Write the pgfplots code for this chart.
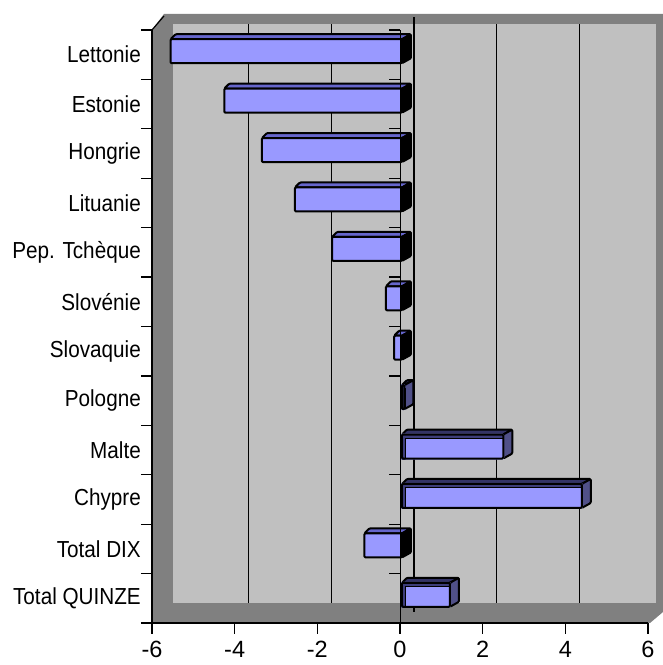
\documentclass[border=0pt]{standalone}
\usepackage{fontspec}
\setmainfont{Liberation Sans}
\usepackage{graphicx}
\usepackage{pgfplots}
\pgfplotsset{compat=1.18}
\usepackage{pgfplotstable}
\definecolor{face}{HTML}{9999FF}
\definecolor{negtop}{HTML}{6666CC}
\definecolor{postop}{HTML}{333366}
\definecolor{posside}{HTML}{505088}
\definecolor{navy}{HTML}{3D3D7A}
\definecolor{wallD}{HTML}{808080}
\definecolor{wallL}{HTML}{C0C0C0}

\pgfplotstableread{
pos v
11 -5.60
10 -4.30
9 -3.39
8 -2.59
7 -1.69
6 -0.39
5 -0.19
4 0.06
3 2.45
2 4.35
1 -0.91
0 1.16
}\bars

\newcommand\lbl[1]{\scalebox{1}[1.12]{#1}}

\begin{document}
\begin{tikzpicture}
\useasboundingbox (-152pt,-42pt) rectangle (511pt,623pt);
% walls
\fill[wallD] (0pt,0pt) -- (0pt,593pt) -- (12pt,609pt) -- (511pt,609pt) -- (511pt,11pt) -- (498pt,0pt) -- cycle;
\fill[wallL] (21pt,20pt) rectangle (504pt,599pt);
\draw[line width=1.2pt] (0pt,593pt) -- (12pt,607pt);
% back gridlines
\foreach \gx in {96.67,179.33,344.67,427.33}
  \draw[line width=1pt] (\gx pt,20pt) -- (\gx pt,599pt);
\draw[line width=1.8pt] (262pt,11pt) -- (262pt,606pt);
\begin{axis}[
  at={(0pt,0pt)}, anchor=south west,
  scale only axis, width=496pt, height=593pt,
  xmin=-6, xmax=6, ymin=-0.5, ymax=11.5,
  enlargelimits=false, clip=false, axis on top,
  axis x line*=bottom, axis y line*=left,
  axis line style={line width=1.8pt, black},
  tick align=outside, major tick length=11pt,
  tick style={line width=1.3pt, black},
  xtick={-6,-4,-2,0,2,4,6},
  xticklabels={-6,-4,-2,0,2,4,6},
  xticklabel style={font=\fontsize{23.5}{23.5}\selectfont, inner sep=0pt, yshift=-7pt},
  ytick={-0.5,0.5,...,11.5},
  y tick label as interval,
  yticklabels={\lbl{Total QUINZE},\lbl{Total DIX},\lbl{Chypre},\lbl{Malte},\lbl{Pologne},\lbl{Slovaquie},\lbl{Slovénie},\lbl{Pep. Tchèque},\lbl{Lituanie},\lbl{Hongrie},\lbl{Estonie},\lbl{Lettonie}},
  yticklabel style={font=\fontsize{20.7}{20.7}\selectfont, inner sep=0pt, anchor=east},
]
\addplot[scatter, only marks, mark=text, text mark={},
  visualization depends on={x \as \val},
  scatter/@pre marker code/.code={%
    \pgfmathsetmacro\L{\val*41.3333}%
    \pgfmathsetmacro\xl{min(0,-\L)+2}%
    \pgfmathsetmacro\xr{max(0,-\L)+2}%
    \pgfmathsetmacro\xrb{\xr+9}%
    \pgfmathsetmacro\xlb{\xl+5}%
    \pgfmathsetmacro\xli{\xl+3.5}%
    \scope[line width=2pt, line join=round, rounded corners=1pt]
    \ifdim\L pt<0pt
      \filldraw[fill=negtop, draw=black] (\xl pt,15.5pt) -- (\xr pt,15.5pt) -- (\xrb pt,20.5pt) -- (\xlb pt,20.5pt) -- cycle;
      \filldraw[fill=black, draw=black] (\xr pt,15.5pt) -- (\xrb pt,20.5pt) -- (\xrb pt,-3.5pt) -- (\xr pt,-8.5pt) -- cycle;
      \filldraw[fill=face, draw=black] (\xl pt,-8.5pt) rectangle (\xr pt,15.5pt);
    \else
      \filldraw[fill=postop, draw=black] (\xl pt,15.5pt) -- (\xr pt,15.5pt) -- (\xrb pt,20.5pt) -- (\xlb pt,20.5pt) -- cycle;
      \filldraw[fill=posside, draw=black] (\xr pt,15.5pt) -- (\xrb pt,20.5pt) -- (\xrb pt,-3.5pt) -- (\xr pt,-8.5pt) -- cycle;
      \fill[face] (\xl pt,-8.5pt) rectangle (\xr pt,15.5pt);
      \fill[navy, rounded corners=0pt] (\xl pt,-8.5pt) -- (\xl pt,15.5pt) -- (\xr pt,15.5pt) -- (\xr pt,12pt) -- (\xli pt,12pt) -- (\xli pt,-8.5pt) -- cycle;
      \draw[black, line width=1pt, rounded corners=0pt] (\xli pt,-8.5pt) -- (\xli pt,12pt) -- (\xr pt,12pt);
      \draw[black] (\xl pt,-8.5pt) rectangle (\xr pt,15.5pt);
    \fi
  },
  scatter/@post marker code/.code={\endscope},
] table[x=v, y=pos] {\bars};
\end{axis}
% front zero line with category ticks
\draw[line width=1pt] (248pt,0pt) -- (248pt,593pt);
\foreach \k in {0,...,12}
  \draw[line width=1.2pt] (237pt,\k*49.4167pt) -- (248pt,\k*49.4167pt);
\end{tikzpicture}
\end{document}
